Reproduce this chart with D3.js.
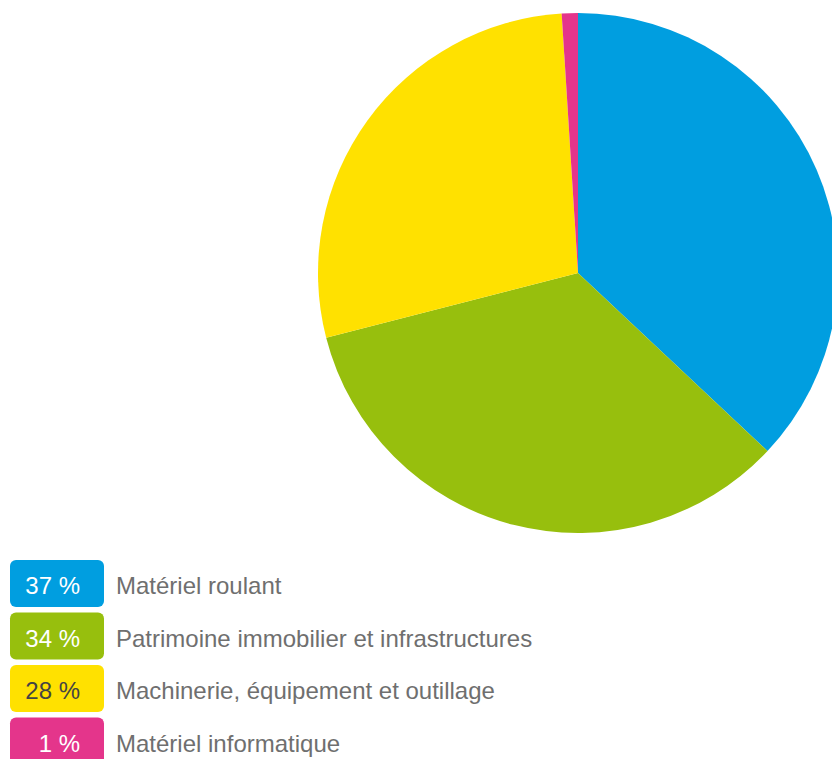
<!DOCTYPE html>
<html><head><meta charset="utf-8">
<script src="https://cdn.jsdelivr.net/npm/d3@7"></script>
<style>html,body{margin:0;padding:0;background:#fff;overflow:hidden}</style>
</head><body>
<svg id="c" width="832" height="759"></svg>
<script>
const categories = ["Matériel roulant","Patrimoine immobilier et infrastructures","Machinerie, équipement et outillage","Matériel informatique"];
const values = [37, 34, 28, 1];
const valueLabels = ["37 %","34 %","28 %","1 %"];
const colors = ["#009ee0","#97bf0d","#ffe100","#e4358b"];
const labelColors = ["#ffffff","#ffffff","#444444","#ffffff"];

const svg = d3.select("#c");
const font = "'Liberation Sans', Arial, sans-serif";
const cx = 578, cy = 273, r = 260;
const pie = d3.pie().sort(null).value(d => d)(values);
const arc = d3.arc().innerRadius(0).outerRadius(r);
svg.append("g").attr("transform", `translate(${cx},${cy})`)
  .selectAll("path").data(pie).join("path")
  .attr("d", arc).attr("fill", (d,i) => colors[i]);

const lg = svg.append("g");
const rows = lg.selectAll("g").data(categories).join("g")
  .attr("transform", (d,i) => `translate(10,${560 + i*52.5})`);
rows.append("rect").attr("width", 94).attr("height", 47).attr("rx", 6)
  .attr("fill", (d,i) => colors[i]);
rows.append("text").attr("x", 70).attr("y", 34).attr("text-anchor","end")
  .attr("font-family", font).attr("font-size", 24)
  .attr("fill", (d,i) => labelColors[i]).text((d,i) => valueLabels[i]);
rows.append("text").attr("x", 106).attr("y", 34)
  .attr("font-family", font).attr("font-size", 24)
  .attr("fill", "#6f6f6f").text(d => d);
</script>
</body></html>
